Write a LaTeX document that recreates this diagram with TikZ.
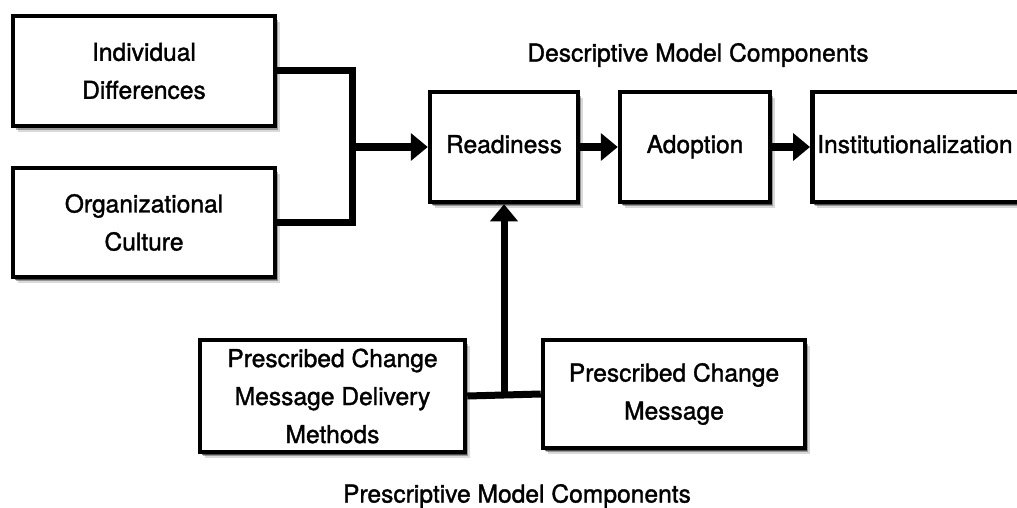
\documentclass[tikz,border=0pt]{standalone}
\usepackage{fontspec}
\setmainfont{TeX Gyre Heros}[FakeBold=1.4]
\usetikzlibrary{arrows.meta,shadows}
\tikzset{
  box/.style={draw=black, line width=4.5pt, fill=white, align=center,
    font=\fontsize{24.6}{38}\selectfont, inner sep=3pt,
    drop shadow={shadow xshift=5pt, shadow yshift=-6pt, fill=black, opacity=0.15},
    drop shadow={shadow xshift=3pt, shadow yshift=-4pt, fill=black, opacity=0.3},
    drop shadow={shadow xshift=1.5pt, shadow yshift=-2.5pt, fill=black, opacity=0.5}},
  one/.style={text height=17pt, text depth=5pt},
  conn/.style={line width=7pt, line join=miter},
  arr/.style={conn, -{Triangle[length=17pt, width=27pt]}},
  title/.style={font=\fontsize{24.6}{28}\selectfont, inner sep=0pt}
}
\begin{document}
\begin{tikzpicture}[x=1pt, y=-1pt]
\useasboundingbox (0,0) rectangle (1017,508);
\clip (0,0) rectangle (1017,508);
\fill[white] (0,0) rectangle (1017,508);

\node[box, minimum width=262pt, minimum height=110pt] (ind) at (144,71) {Individual\\Differences};
\node[box, minimum width=262pt, minimum height=109pt] (org) at (144,222.5) {Organizational\\Culture};
\node[box, one, minimum width=148pt, minimum height=110pt] (ready) at (504,147) {Readiness};
\node[box, one, minimum width=150pt, minimum height=110pt] (adopt) at (695,147) {Adoption};
\node[box, one, minimum width=230pt, minimum height=110pt, anchor=west, text width=220pt, align=left] (inst) at (810,147) {Institutionalization};
\node[box, minimum width=265pt, minimum height=112pt] (pcmdm) at (332.5,396) {Prescribed Change\\Message Delivery\\Methods};
\node[box, minimum width=262pt, minimum height=108pt] (pcm) at (674,394) {Prescribed Change\\Message};

\node[title] (desc) at (698,55) {Descriptive Model Components};
\node[title] (presc) at (517,496) {Prescriptive Model Components};

\coordinate (j1) at (352,147);
\draw[conn] (ind.east) -| (j1) |- (org.east);
\draw[arr] (j1) -- (ready.west);
\draw[arr] (ready.east) -- (adopt.west);
\draw[arr] (adopt.east) -- (inst.west);

\coordinate (j2) at (ready.south |- pcm.west);
\draw[conn] (pcmdm.east) -- (pcm.west);
\draw[arr] (j2) -- (ready.south);
\end{tikzpicture}
\end{document}
